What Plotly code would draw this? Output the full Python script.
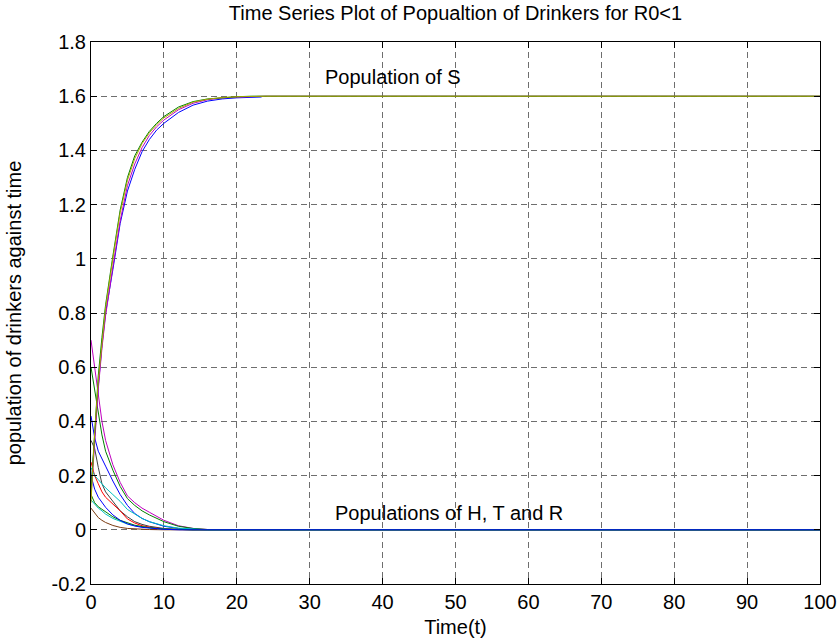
import plotly.graph_objects as go

# ---------------- data ----------------
t_s = [0, 0.5, 1, 1.5, 2, 3, 4, 5, 6, 7, 8, 9, 10, 12, 14, 16, 18, 20, 22, 24, 100]
t_s_blue = [0, 0.5, 1, 1.5, 2, 3, 4, 5, 6, 7, 8, 9, 10, 12, 14, 16, 18, 20, 22, 23.4]

s_blue = [0.15, 0.35, 0.53, 0.68, 0.80, 0.96, 1.13, 1.25, 1.33, 1.395, 1.44, 1.475, 1.50,
          1.54, 1.567, 1.582, 1.59, 1.594, 1.596, 1.597]
s_magenta = [0.12, 0.34, 0.52, 0.67, 0.79, 0.97, 1.14, 1.27, 1.35, 1.41, 1.455, 1.487, 1.512,
             1.55, 1.574, 1.587, 1.594, 1.597, 1.599, 1.6, 1.6]
s_green = [0.14, 0.38, 0.57, 0.71, 0.83, 1.01, 1.18, 1.30, 1.38, 1.43, 1.47, 1.50, 1.525,
           1.56, 1.58, 1.59, 1.595, 1.598, 1.6, 1.6, 1.6]
s_olive = [0.10, 0.36, 0.55, 0.70, 0.82, 1.00, 1.17, 1.29, 1.37, 1.425, 1.465, 1.495, 1.52,
           1.555, 1.578, 1.589, 1.595, 1.598, 1.6, 1.6, 1.6]

t_d = [0, 0.5, 1, 1.5, 2, 3, 4, 5, 6, 7, 8, 10, 12, 14, 16, 100]
d_magenta = [0.70, 0.60, 0.49, 0.40, 0.33, 0.24, 0.175, 0.125, 0.10, 0.08, 0.065, 0.035, 0.015, 0.005, 0.001, 0]
d_green_a = [0.60, 0.52, 0.43, 0.35, 0.29, 0.22, 0.16, 0.115, 0.09, 0.07, 0.055, 0.03, 0.013, 0.005, 0.001, 0]
d_blue_a = [0.42, 0.34, 0.29, 0.26, 0.235, 0.18, 0.13, 0.09, 0.06, 0.042, 0.03, 0.013, 0.005, 0.002, 0, 0]
d_gray = [0.33, 0.30, 0.23, 0.17, 0.14, 0.105, 0.07, 0.048, 0.03, 0.02, 0.013, 0.005, 0.001, 0, 0, 0]
d_red = [0.25, 0.20, 0.17, 0.14, 0.12, 0.095, 0.07, 0.04, 0.025, 0.015, 0.01, 0.003, 0.001, 0, 0, 0]
d_cyan_a = [0.23, 0.20, 0.185, 0.17, 0.155, 0.13, 0.105, 0.075, 0.058, 0.042, 0.03, 0.015, 0.006, 0.002, 0, 0]
d_brown = [0.08, 0.06, 0.045, 0.035, 0.027, 0.016, 0.009, 0.005, 0.003, 0.002, 0.001, 0, 0, 0, 0, 0]
d_cyan_b = [0.11, 0.095, 0.08, 0.07, 0.058, 0.042, 0.03, 0.021, 0.015, 0.01, 0.007, 0.003, 0.001, 0, 0, 0]
d_green_b = [0.13, 0.10, 0.085, 0.075, 0.065, 0.048, 0.035, 0.025, 0.017, 0.012, 0.008, 0.003, 0.001, 0, 0, 0]
d_blue_b = [0.20, 0.15, 0.12, 0.10, 0.083, 0.055, 0.035, 0.022, 0.014, 0.009, 0.006, 0.002, 0, 0, 0, 0]

x_ticks = [0, 10, 20, 30, 40, 50, 60, 70, 80, 90, 100]
x_tick_text = ["0", "10", "20", "30", "40", "50", "60", "70", "80", "90", "100"]
y_ticks = [-0.2, 0, 0.2, 0.4, 0.6, 0.8, 1.0, 1.2, 1.4, 1.6, 1.8]
y_tick_text = ["-0.2", "0", "0.2", "0.4", "0.6", "0.8", "1", "1.2", "1.4", "1.6", "1.8"]

title_text = "Time Series Plot of Popualtion of Drinkers for R0<1"
x_label = "Time(t)"
y_label = "population of drinkers against time"
label_s = "Population of S"
label_htr = "Populations of H, T and R"

# ---------------- figure ----------------
FONT = "Liberation Sans, Arial, sans-serif"
FS = 20
fig = go.Figure()

def add(x, y, color):
    fig.add_trace(go.Scatter(x=x, y=y, mode="lines",
                             line=dict(color=color, width=1),
                             showlegend=False, hoverinfo="skip"))

# decaying populations (H, T, R)
add(t_d, d_magenta, "#bf00bf")
add(t_d, d_green_a, "#008000")
add(t_d, d_blue_a, "#0000ff")
add(t_d, d_gray, "#404040")
add(t_d, d_red, "#ff0000")
add(t_d, d_cyan_a, "#00bfbf")
add(t_d, d_brown, "#7a3a10")
add(t_d, d_cyan_b, "#00bfbf")
add(t_d, d_green_b, "#008000")
add(t_d, d_blue_b, "#0000ff")

# S populations
add(t_s_blue, s_blue, "#0000ff")
add(t_s, s_magenta, "#bf00bf")
add(t_s, s_green, "#008000")
add(t_s, s_olive, "#a8a800")

fig.add_annotation(x=31.8, y=1.671, text=label_s, showarrow=False,
                   xanchor="left", yanchor="middle",
                   font=dict(family=FONT, size=FS, color="black"))
fig.add_annotation(x=33.2, y=0.062, text=label_htr, showarrow=False,
                   xanchor="left", yanchor="middle",
                   font=dict(family=FONT, size=FS, color="black"))

axis_common = dict(showline=True, linecolor="black", linewidth=1, mirror="ticks",
                   ticks="inside", ticklen=6, tickcolor="black",
                   showgrid=True, gridcolor="#6e6e6e", griddash="6px,4px", gridwidth=1,
                   zeroline=False, automargin=False,
                   tickfont=dict(family=FONT, size=FS, color="black"))

fig.update_layout(
    width=840, height=640,
    margin=dict(l=91, r=20, t=42, b=56),
    paper_bgcolor="white", plot_bgcolor="white",
    font=dict(family=FONT, size=FS, color="black"),
    title=dict(text=title_text, x=0.5, xanchor="center", xref="paper",
               y=1 - 13 / 640, yanchor="middle", yref="container",
               font=dict(family=FONT, size=FS, color="black")),
    xaxis=dict(range=[0, 100], tickvals=x_ticks, ticktext=x_tick_text,
               title=dict(text=x_label, standoff=7, font=dict(family=FONT, size=FS)),
               **axis_common),
    yaxis=dict(range=[-0.2, 1.8], tickvals=y_ticks, ticktext=y_tick_text,
               title=dict(text=y_label, standoff=24, font=dict(family=FONT, size=FS)),
               **axis_common),
)

# remove the browser's default 8px body margin so the figure sits at the page origin
fig.write_html("out.html", config={"displayModeBar": False},
               post_script="document.body.style.margin='0';document.body.style.overflow='hidden';")
